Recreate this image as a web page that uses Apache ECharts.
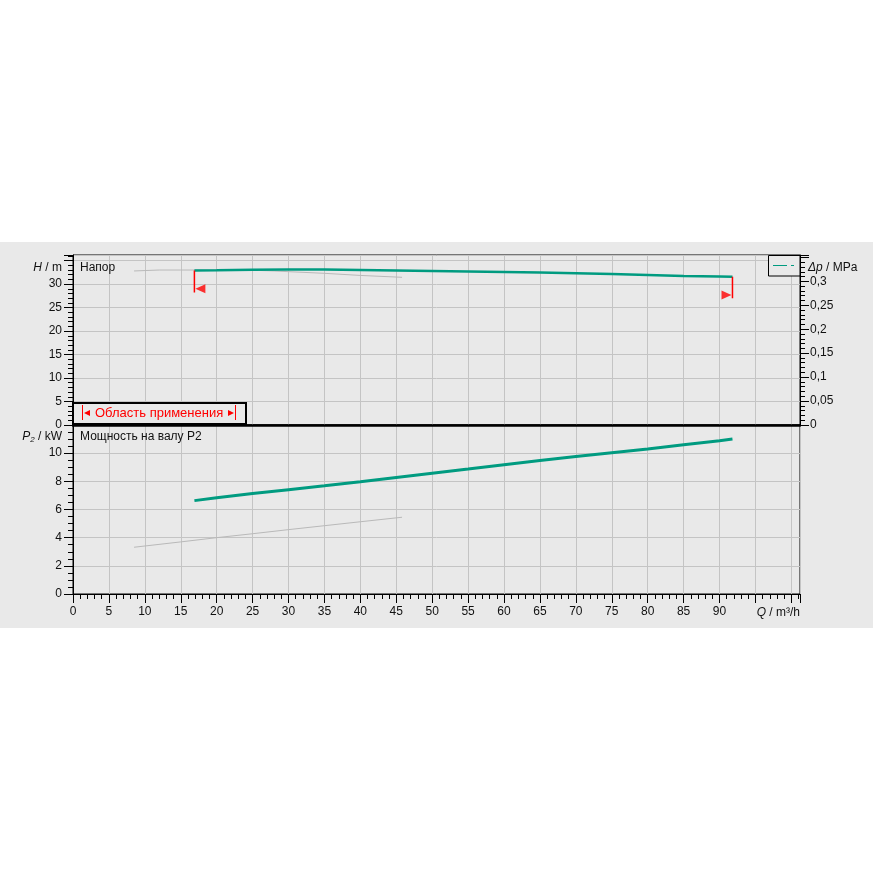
<!DOCTYPE html>
<html>
<head>
<meta charset="utf-8">
<script src="https://cdn.jsdelivr.net/npm/echarts@6/dist/echarts.min.js"></script>
<style>
html, body { margin: 0; background: #fff; }
#chart { width: 873px; height: 873px; }
</style>
</head>
<body>
<div id="chart"></div>
<script>
// Напор (H, m) по подаче Q, m³/h
var flowQ = [16.9, 20, 25, 30, 35, 40, 45, 50, 55, 60, 65, 70, 75, 80, 85, 90, 91.8];
var headH = [32.9, 32.95, 33.05, 33.1, 33.1, 33.0, 32.9, 32.8, 32.7, 32.6, 32.45, 32.3, 32.15, 31.95, 31.75, 31.6, 31.55];
// мощность на валу P2, kW
var powerP2 = [6.63, 6.83, 7.14, 7.41, 7.68, 7.97, 8.27, 8.57, 8.87, 9.18, 9.48, 9.76, 10.03, 10.3, 10.6, 10.88, 11.0];

// серые (минимальные) кривые
var flowQMin = [8.5, 12, 15, 20, 25, 28, 30, 35, 40, 45.8];
var headHMin = [32.8, 33.0, 33.0, 33.0, 32.95, 32.8, 32.65, 32.3, 31.85, 31.45];
var flowQMinP = [8.5, 15, 20, 25, 30, 35, 40, 45.8];
var powerP2Min = [3.32, 3.7, 4.0, 4.28, 4.57, 4.85, 5.13, 5.45];

// границы области применения
var rangeQ = [16.9, 91.8];
var rangeMarkH = [29.0, 27.7];
var rangeEndH = [28.2, 27.0];

// оси
var qMax = 101.2;
var hMax = 36.2;
var dpMax = 0.355;
var pMax = 12;

var FONT = "'Liberation Sans', Arial, sans-serif";
var GREEN = '#009b80';
var GRID_LINE = '#c4c4c4';
var BG = '#e9e9e9';

function zip(a, b) {
	return a.map(function (v, i) { return [v, b[i]]; });
}

function majorAxis(opt) {
	return Object.assign({
		type: 'value',
		axisLine: { show: true, onZero: false, lineStyle: { color: '#000', width: 1 } },
		axisTick: { show: true, inside: false, length: 9, lineStyle: { color: '#000' } },
		axisLabel: { fontFamily: FONT, fontSize: 12, color: '#111' },
		splitLine: { show: true, lineStyle: { color: GRID_LINE, width: 1 } }
	}, opt);
}

function minorAxis(opt) {
	return Object.assign({
		type: 'value',
		axisLine: { show: false },
		axisTick: { show: true, inside: false, length: 5, lineStyle: { color: '#000' } },
		axisLabel: { show: false },
		splitLine: { show: false }
	}, opt);
}

var chart = echarts.init(document.getElementById('chart'));

var option = {
	backgroundColor: '#fff',
	animation: false,
	grid: [
		{ left: 73, right: 73, top: 255, height: 170, show: true, backgroundColor: BG, borderColor: '#000', borderWidth: 1 },
		{ left: 73, right: 73, top: 425, height: 169, show: true, backgroundColor: BG, borderColor: '#000', borderWidth: 1 }
	],
	xAxis: [
		majorAxis({
			gridIndex: 0, position: 'bottom', min: 0, max: qMax, interval: 5,
			axisLine: { show: true, onZero: false, lineStyle: { color: '#000', width: 2.5 } },
			axisTick: { show: false },
			axisLabel: { show: false }
		}),
		majorAxis({
			gridIndex: 1, position: 'bottom', min: 0, max: qMax, interval: 5,
			axisLabel: {
				fontFamily: FONT, fontSize: 12, color: '#111', margin: 12,
				formatter: function (v) { return (v % 5 === 0 && v <= 90) ? String(v) : ''; }
			}
		}),
		minorAxis({ gridIndex: 1, position: 'bottom', min: 0, max: qMax, interval: 1 })
	],
	yAxis: [
		majorAxis({
			gridIndex: 0, position: 'left', min: 0, max: hMax, interval: 5,
			axisLabel: {
				fontFamily: FONT, fontSize: 12, color: '#111', margin: 11,
				formatter: function (v) { return (v % 5 === 0 && v <= 30) ? String(v) : ''; }
			}
		}),
		minorAxis({ gridIndex: 0, position: 'left', min: 0, max: hMax, interval: 1 }),
		majorAxis({
			gridIndex: 0, position: 'right', min: 0, max: dpMax, interval: 0.05,
			splitLine: { show: false },
			axisLabel: {
				fontFamily: FONT, fontSize: 12, color: '#111', margin: 10,
				formatter: function (v) {
					if (v > 0.31) return '';
					return String(+v.toFixed(2)).replace('.', ',');
				}
			}
		}),
		minorAxis({ gridIndex: 0, position: 'right', min: 0, max: dpMax, interval: 0.01 }),
		majorAxis({
			gridIndex: 1, position: 'left', min: 0, max: pMax, interval: 2,
			axisLabel: {
				fontFamily: FONT, fontSize: 12, color: '#111', margin: 11,
				formatter: function (v) { return v <= 10 ? String(v) : ''; }
			}
		}),
		minorAxis({ gridIndex: 1, position: 'left', min: 0, max: pMax, interval: 0.5 })
	],
	series: [
		{
			name: 'H min', type: 'line', xAxisIndex: 0, yAxisIndex: 0,
			data: zip(flowQMin, headHMin), showSymbol: false, z: 3,
			lineStyle: { color: '#b9b9b9', width: 1 }
		},
		{
			name: 'H', type: 'line', xAxisIndex: 0, yAxisIndex: 0,
			data: zip(flowQ, headH), showSymbol: false, z: 4,
			lineStyle: { color: GREEN, width: 2.5 }
		},
		{
			name: 'P2 min', type: 'line', xAxisIndex: 1, yAxisIndex: 4,
			data: zip(flowQMinP, powerP2Min), showSymbol: false, z: 3,
			lineStyle: { color: '#b9b9b9', width: 1 }
		},
		{
			name: 'P2', type: 'line', xAxisIndex: 1, yAxisIndex: 4,
			data: zip(flowQ, powerP2), showSymbol: false, z: 4,
			lineStyle: { color: GREEN, width: 3 }
		},
		{
			name: 'min', type: 'line', xAxisIndex: 0, yAxisIndex: 0,
			data: [[rangeQ[0], headH[0]], [rangeQ[0], rangeEndH[0]]], showSymbol: false, z: 5,
			lineStyle: { color: '#ff0000', width: 1.5 }
		},
		{
			name: 'max', type: 'line', xAxisIndex: 0, yAxisIndex: 0,
			data: [[rangeQ[1], headH[headH.length - 1]], [rangeQ[1], rangeEndH[1]]], showSymbol: false, z: 5,
			lineStyle: { color: '#ff0000', width: 1.5 }
		},
		{
			name: 'arrows', type: 'scatter', xAxisIndex: 0, yAxisIndex: 0, z: 6,
			symbol: 'triangle', symbolSize: [9, 10],
			itemStyle: { color: '#ff0000' },
			data: [
				{ value: [rangeQ[0], rangeMarkH[0]], symbolRotate: 90, symbolOffset: [6, 0] },
				{ value: [rangeQ[1], rangeMarkH[1]], symbolRotate: -90, symbolOffset: [-6, 0] }
			]
		}
	],
	graphic: [
		// серая подложка
		{ type: 'rect', z: -10, silent: true, shape: { x: 0, y: 242, width: 873, height: 386 }, style: { fill: BG } },
		// подписи осей
		{ type: 'text', z: 10, style: { x: 62, y: 268, text: '{i|H} / m', align: 'right', verticalAlign: 'middle', font: '12px ' + FONT, fill: '#111', rich: { i: { fontStyle: 'italic', fontFamily: FONT, fontSize: 12 } } } },
		{ type: 'text', z: 10, style: { x: 62, y: 437, text: '{i|P}{s|2} / kW', align: 'right', verticalAlign: 'middle', font: '12px ' + FONT, fill: '#111', rich: { i: { fontStyle: 'italic', fontFamily: FONT, fontSize: 12 }, s: { fontStyle: 'italic', fontFamily: FONT, fontSize: 8, verticalAlign: 'bottom', padding: [5, 0, 0, 0] } } } },
		{ type: 'text', z: 10, style: { x: 808, y: 268, text: '{i|Δp} / MPa', align: 'left', verticalAlign: 'middle', font: '12px ' + FONT, fill: '#111', rich: { i: { fontStyle: 'italic', fontFamily: FONT, fontSize: 12 } } } },
		{ type: 'text', z: 10, style: { x: 800, y: 613, text: '{i|Q} / m³/h', align: 'right', verticalAlign: 'middle', font: '12px ' + FONT, fill: '#111', rich: { i: { fontStyle: 'italic', fontFamily: FONT, fontSize: 12 } } } },
		{ type: 'text', z: 10, style: { x: 80, y: 268, text: 'Напор', align: 'left', verticalAlign: 'middle', font: '12px ' + FONT, fill: '#111' } },
		{ type: 'text', z: 10, style: { x: 80, y: 437, text: 'Мощность на валу P2', align: 'left', verticalAlign: 'middle', font: '12px ' + FONT, fill: '#111' } },
		// легенда Δp
		{ type: 'rect', z: 10, shape: { x: 768.5, y: 255.5, width: 31.5, height: 20.5 }, style: { fill: BG, stroke: '#000', lineWidth: 1 } },
		{ type: 'line', z: 11, shape: { x1: 773, y1: 265.5, x2: 787, y2: 265.5 }, style: { stroke: GREEN, lineWidth: 1 } },
		{ type: 'line', z: 11, shape: { x1: 791, y1: 265.5, x2: 794, y2: 265.5 }, style: { stroke: GREEN, lineWidth: 1 } },
		// область применения
		{ type: 'rect', z: 10, shape: { x: 73, y: 403, width: 173, height: 21 }, style: { fill: BG, stroke: '#000', lineWidth: 2 } },
		{ type: 'line', z: 11, shape: { x1: 82.5, y1: 405, x2: 82.5, y2: 420 }, style: { stroke: '#ff0000', lineWidth: 1 } },
		{ type: 'polygon', z: 11, shape: { points: [[84, 413], [90, 410], [90, 416]] }, style: { fill: '#ff0000' } },
		{ type: 'text', z: 11, style: { x: 95, y: 413.5, text: 'Область применения', align: 'left', verticalAlign: 'middle', font: '13px ' + FONT, fill: '#ff0000' } },
		{ type: 'polygon', z: 11, shape: { points: [[234, 413], [228, 410], [228, 416]] }, style: { fill: '#ff0000' } },
		{ type: 'line', z: 11, shape: { x1: 235.5, y1: 405, x2: 235.5, y2: 420 }, style: { stroke: '#ff0000', lineWidth: 1 } }
	]
};

chart.setOption(option);
</script>
</body>
</html>
